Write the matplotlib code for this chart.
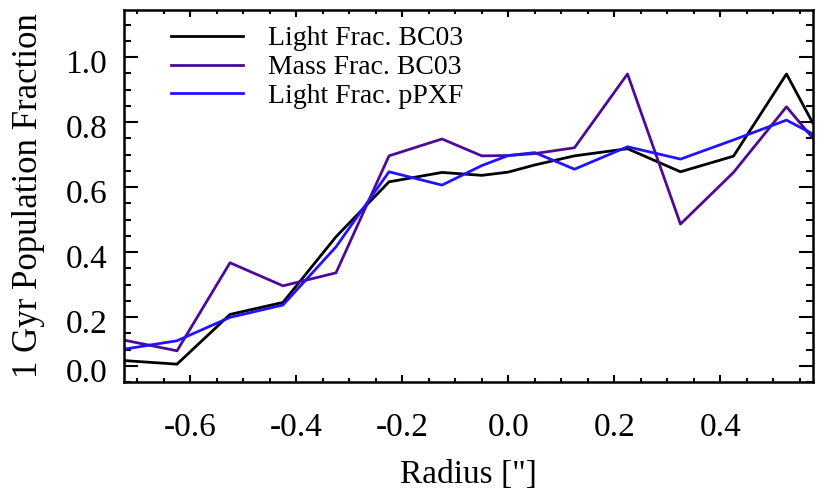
import numpy as np
import matplotlib
matplotlib.use("Agg")
import matplotlib.pyplot as plt
import matplotlib.transforms as mtransforms
from matplotlib.ticker import MultipleLocator, FixedLocator

# radius bins ["]
radius = [-0.725, -0.625, -0.525, -0.425, -0.325, -0.225, -0.125, -0.05,
          0.0, 0.05, 0.125, 0.225, 0.325, 0.425, 0.525, 0.575]
light_bc03 = [0.066, 0.055, 0.208, 0.245, 0.447, 0.616, 0.645, 0.636,
              0.646, 0.668, 0.696, 0.718, 0.647, 0.695, 0.948, 0.796]
mass_bc03 = [0.129, 0.096, 0.367, 0.296, 0.336, 0.696, 0.748, 0.696,
             0.697, 0.703, 0.721, 0.948, 0.486, 0.645, 0.847, 0.750]
light_ppxf = [0.101, 0.127, 0.199, 0.237, 0.416, 0.647, 0.606, 0.666,
              0.697, 0.706, 0.655, 0.724, 0.686, 0.745, 0.806, 0.763]

ytick_pos = [0.05, 0.2, 0.4, 0.6, 0.8, 1.0]
ytick_lab = ['0.0', '0.2', '0.4', '0.6', '0.8', '1.0']
xtick_pos = [-0.6, -0.4, -0.2, 0.0, 0.2, 0.4]

plt.rcParams['font.family'] = ['Liberation Serif', 'DejaVu Serif']
plt.rcParams['axes.unicode_minus'] = False

fig = plt.figure(figsize=(8.3, 4.98), dpi=100)
ax = fig.add_axes([0.1494, 0.2329, 0.8301, 0.7471])

ax.plot(radius, light_bc03, color='black', lw=2.0, label='Light Frac. BC03')
ax.plot(radius, mass_bc03, color='#4e0a96', lw=2.0, label='Mass Frac. BC03')
ax.plot(radius, light_ppxf, color='#2212ff', lw=2.0, label='Light Frac. pPXF')

ax.set_xlim(-0.725, 0.575)
ax.set_ylim(0.0, 1.145)

ax.xaxis.set_major_locator(FixedLocator(xtick_pos))
ax.xaxis.set_minor_locator(MultipleLocator(0.05))
ax.yaxis.set_major_locator(FixedLocator(ytick_pos))
ax.set_yticklabels(ytick_lab)
ax.yaxis.set_minor_locator(MultipleLocator(0.05))

ax.tick_params(which='both', direction='in', top=True, right=True, width=1.5,
               labelsize=24)
ax.tick_params(axis='x', which='major', length=5.3, pad=22)
ax.tick_params(axis='x', which='minor', length=2.7)
ax.tick_params(axis='y', which='major', length=10, pad=12)
ax.tick_params(axis='y', which='minor', length=5)
for sp in ax.spines.values():
    sp.set_linewidth(1.8)

# y labels sit a little below their ticks in the original
shift = mtransforms.ScaledTranslation(0, -4 / 100, fig.dpi_scale_trans)
for lab in ax.get_yticklabels():
    lab.set_transform(lab.get_transform() + shift)

ax.set_xlabel('Radius ["]', fontsize=24, labelpad=12)
ax.set_ylabel('1 Gyr Population Fraction', fontsize=25, labelpad=15)

ax.legend(loc='upper left', bbox_to_anchor=(0.032, 1.024), frameon=False,
          fontsize=20, handlelength=2.6, handletextpad=0.9, labelspacing=0.12)

fig.savefig('out.png', dpi=100)
